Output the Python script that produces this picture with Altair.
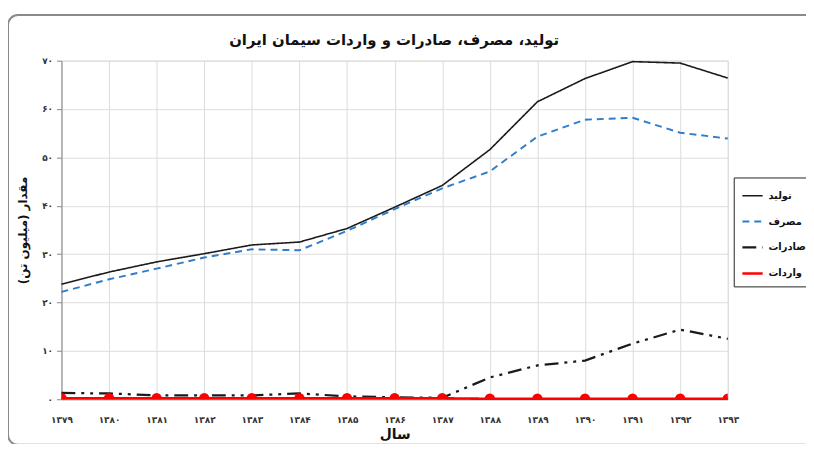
import altair as alt
import pandas as pd

years = ["۱۳۷۹", "۱۳۸۰", "۱۳۸۱", "۱۳۸۲", "۱۳۸۳", "۱۳۸۴", "۱۳۸۵", "۱۳۸۶",
         "۱۳۸۷", "۱۳۸۸", "۱۳۸۹", "۱۳۹۰", "۱۳۹۱", "۱۳۹۲", "۱۳۹۳"]
production = [23.8, 26.3, 28.4, 30.1, 31.9, 32.5, 35.3, 39.7, 44.2, 51.6, 61.5, 66.3, 69.8, 69.5, 66.4]
consumption = [22.2, 24.8, 27.0, 29.3, 31.0, 30.8, 34.8, 39.3, 43.6, 47.1, 54.3, 57.8, 58.2, 55.1, 53.9]
exports = [1.3, 1.2, 0.8, 0.8, 0.8, 1.2, 0.6, 0.4, 0.3, 4.5, 7.0, 8.0, 11.5, 14.4, 12.5]
imports = [0.2, 0.2, 0.2, 0.2, 0.2, 0.2, 0.2, 0.2, 0.2, 0.1, 0.1, 0.1, 0.1, 0.1, 0.1]

series_names = ["تولید", "مصرف", "صادرات", "واردات"]
series_colors = ["#1a1a1a", "#2f7cc9", "#1a1a1a", "#ff0000"]
series_dash = [[1, 0], [7, 5], [14, 6, 3, 6, 3, 6], [1, 0]]
series_width = [1.6, 2.6, 2.6, 2.4]
y_tick_labels = ["۰", "۱۰", "۲۰", "۳۰", "۴۰", "۵۰", "۶۰", "۷۰"]

title_text = "تولید، مصرف، صادرات و واردات سیمان ایران"
y_title = "مقدار (میلیون تن)"
x_title = "سال"

rows = []
for name, vals in zip(series_names, [production, consumption, exports, imports]):
    for y, v in zip(years, vals):
        rows.append({"year": y, "series": name, "value": v})
df = pd.DataFrame(rows)

FONT = "DejaVu Sans"
label_expr = "[" + ",".join("'%s'" % s for s in y_tick_labels) + "][floor(datum.value / 10)]"

x_enc = alt.X("year:N", sort=years, scale=alt.Scale(type="point", padding=0),
              axis=alt.Axis(title=x_title, labelAngle=0, labelPadding=16, ticks=False,
                            grid=True, gridColor="#dcdcdc", domainColor="#888",
                            labelFont=FONT, labelFontSize=9, labelFontWeight="bold",
                            labelColor="#333", titleFont=FONT, titleFontSize=14,
                            titleFontWeight="bold", titlePadding=4, titleColor="#111"))
y_enc = alt.Y("value:Q", scale=alt.Scale(domain=[0, 70], nice=False),
              axis=alt.Axis(title=y_title, values=[0, 10, 20, 30, 40, 50, 60, 70],
                            labelExpr=label_expr, grid=True, gridColor="#dcdcdc",
                            domainColor="#888", tickColor="#888", tickSize=5,
                            labelFont=FONT, labelFontSize=9, labelFontWeight="bold",
                            labelColor="#333", labelPadding=4,
                            titleFont=FONT, titleFontSize=12, titleFontWeight="bold",
                            titleColor="#111", titlePadding=12))

legend = alt.Legend(title=None, orient="none", legendX=679, legendY=118,
                    strokeColor="#222", fillColor="white", padding=7,
                    symbolType="stroke", symbolSize=420, symbolStrokeWidth=2.5,
                    labelFont=FONT, labelFontSize=10, labelFontWeight="bold",
                    labelColor="#111", rowPadding=9, labelOffset=4)

lines = alt.Chart(df).mark_line(clip=False).encode(
    x=x_enc,
    y=y_enc,
    color=alt.Color("series:N", sort=series_names,
                    scale=alt.Scale(domain=series_names, range=series_colors), legend=legend),
    strokeDash=alt.StrokeDash("series:N", sort=series_names,
                              scale=alt.Scale(domain=series_names, range=series_dash), legend=legend),
    strokeWidth=alt.StrokeWidth("series:N", sort=series_names,
                                scale=alt.Scale(domain=series_names, range=series_width), legend=None),
)

points = alt.Chart(df[df["series"] == "واردات"]).mark_circle(
    color="#ff0000", size=110, opacity=1, clip=True
).encode(x=alt.X("year:N", sort=years), y="value:Q")

one = pd.DataFrame({"t": [title_text]})

frame = alt.Chart(one).mark_rect(
    filled=False, stroke="#8a8a8a", strokeWidth=2, cornerRadius=10, clip=False
).encode(x=alt.value(-54), x2=alt.value(770), y=alt.value(-46), y2=alt.value(388))

title_mark = alt.Chart(one).mark_text(
    font=FONT, fontSize=15, fontWeight="bold", color="#111",
    align="center", baseline="middle", clip=False
).encode(text="t:N", x=alt.value(336), y=alt.value(-21))

chart = alt.layer(frame, title_mark, lines, points).properties(
    width=673, height=342,
    autosize=alt.AutoSizeParams(type="none"),
    padding={"left": 54, "top": 51, "right": 79, "bottom": 43},
).configure_view(stroke="#888", strokeWidth=1.5).configure(background="white")

chart.save("out.html", embed_options={"renderer": "svg", "actions": False})
